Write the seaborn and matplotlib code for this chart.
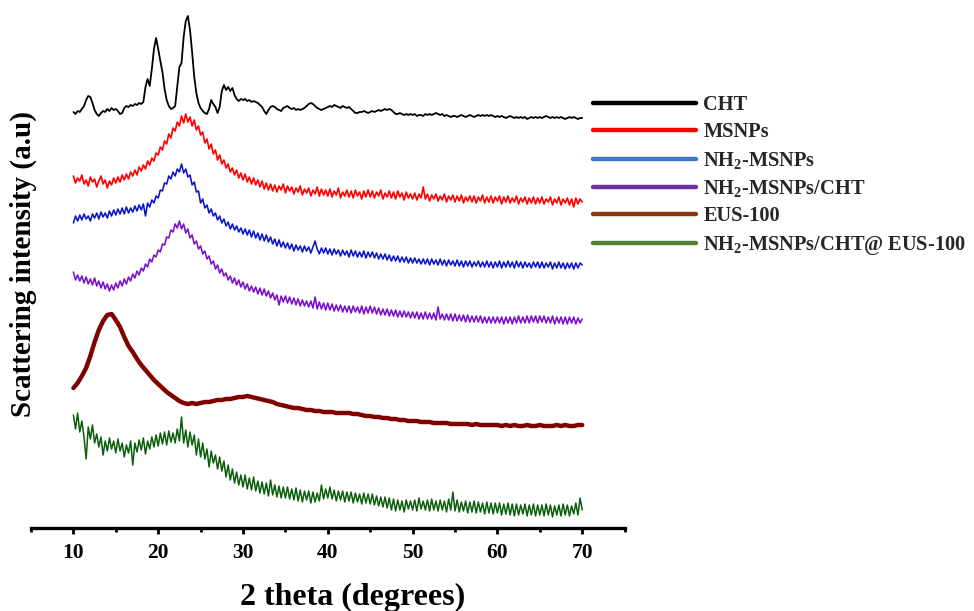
import numpy as np
import pandas as pd
import matplotlib
matplotlib.use("Agg")
import matplotlib.pyplot as plt
import seaborn as sns
from matplotlib.lines import Line2D
from matplotlib.ticker import MultipleLocator

# scan angle grids (2 theta, degrees)
two_theta_fine = np.arange(10.0, 70.001, 0.25)
two_theta_coarse = np.arange(10.0, 70.001, 0.5)

# intensities (a.u.)
cht = [415, 413, 416, 415, 418, 421, 427, 431, 430, 424, 417, 413, 411, 414, 416, 415, 418, 416, 419, 417,
       418, 416, 413, 414, 419, 421, 420, 422, 421, 423, 422, 424, 423, 425, 440, 448, 441, 458, 478, 489,
       478, 466, 455, 438, 427, 421, 418, 419, 421, 440, 460, 464, 490, 506, 511, 497, 475, 450, 434, 424,
       419, 416, 414, 413, 418, 427, 423, 420, 414, 420, 436, 442, 437, 440, 436, 439, 432, 428, 426, 428,
       427, 428, 426, 427, 425, 426, 425, 424, 422, 420, 416, 413, 417, 420, 421, 420, 418, 417, 416, 419,
       420, 421, 419, 418, 419, 417, 418, 417, 418, 419, 421, 423, 424, 423, 421, 419, 418, 417, 418, 419,
       420, 421, 420, 422, 421, 420, 419, 421, 420, 419, 420, 418, 416, 414, 414, 415, 415, 416, 415, 414,
       415, 416, 415, 416, 417, 416, 417, 418, 417, 418, 417, 415, 413, 413, 414, 413, 412, 413, 412, 413,
       412, 413, 411, 412, 412, 411, 413, 412, 413, 412, 413, 414, 413, 412, 413, 411, 412, 411, 410, 411,
       411, 410, 411, 412, 411, 410, 411, 412, 411, 410, 411, 412, 411, 412, 411, 412, 411, 412, 411, 410,
       411, 410, 411, 410, 409, 410, 411, 410, 409, 410, 409, 410, 409, 410, 408, 409, 410, 409, 410, 409,
       410, 409, 410, 411, 410, 409, 410, 409, 410, 409, 410, 409, 408, 409, 410, 409, 410, 409, 408, 409,
       409]

msnps = [351, 344, 349, 346, 352, 343, 347, 341, 350, 345, 348, 340, 346, 351, 343, 347, 339, 346, 342, 349,
         344, 350, 345, 352, 347, 353, 348, 355, 351, 357, 352, 360, 356, 362, 358, 366, 362, 369, 366, 374,
         372, 380, 377, 386, 383, 393, 389, 399, 396, 405, 401, 411, 404, 413, 405, 410, 401, 407, 397, 401,
         392, 395, 384, 388, 378, 383, 373, 377, 367, 372, 363, 367, 359, 363, 355, 359, 352, 357, 349, 354,
         347, 353, 345, 350, 343, 349, 342, 347, 340, 346, 338, 344, 337, 343, 336, 342, 335, 341, 337, 343,
         334, 341, 336, 340, 333, 339, 335, 341, 332, 338, 334, 339, 331, 337, 333, 340, 331, 338, 332, 337,
         331, 338, 330, 336, 332, 339, 329, 335, 331, 337, 330, 336, 329, 337, 331, 335, 328, 336, 330, 337,
         330, 336, 329, 335, 331, 337, 328, 334, 330, 336, 329, 335, 328, 336, 330, 334, 327, 335, 329, 333,
         328, 334, 327, 333, 329, 340, 328, 333, 326, 332, 328, 333, 326, 331, 327, 333, 325, 331, 327, 332,
         325, 331, 326, 332, 324, 330, 326, 331, 325, 331, 324, 330, 326, 332, 324, 330, 325, 331, 324, 330,
         326, 331, 323, 330, 325, 331, 324, 329, 325, 331, 323, 329, 325, 330, 323, 329, 324, 330, 323, 329,
         324, 330, 323, 328, 325, 330, 322, 328, 324, 330, 322, 328, 324, 329, 322, 328, 320, 329, 323, 328,
         325]

nh2_msnps = [304, 311, 306, 312, 307, 313, 308, 311, 306, 313, 309, 314, 308, 315, 310, 314, 309, 316, 311, 317,
             312, 318, 313, 319, 313, 320, 314, 319, 315, 321, 316, 322, 317, 323, 311, 324, 320, 327, 324, 331,
             329, 337, 336, 344, 343, 351, 348, 355, 351, 358, 355, 363, 354, 358, 350, 352, 342, 345, 335, 336,
             324, 328, 319, 322, 314, 318, 311, 314, 307, 311, 304, 308, 301, 305, 298, 303, 297, 301, 295, 299,
             293, 298, 292, 297, 290, 296, 289, 294, 287, 293, 286, 292, 285, 290, 283, 288, 281, 287, 280, 285,
             279, 284, 278, 283, 276, 282, 277, 281, 275, 281, 276, 280, 274, 280, 286, 278, 273, 279, 274, 279,
             273, 278, 272, 278, 273, 277, 271, 277, 272, 276, 270, 277, 271, 276, 270, 275, 270, 276, 269, 275,
             270, 275, 269, 274, 268, 273, 268, 273, 267, 272, 266, 271, 266, 271, 265, 270, 265, 270, 264, 269,
             264, 269, 264, 268, 263, 268, 263, 268, 262, 268, 263, 267, 262, 268, 262, 267, 261, 267, 262, 266,
             261, 267, 261, 266, 260, 266, 261, 266, 260, 265, 261, 266, 260, 265, 260, 266, 260, 265, 259, 265,
             260, 266, 259, 265, 260, 266, 260, 265, 259, 266, 260, 265, 259, 265, 260, 264, 259, 265, 260, 265,
             259, 265, 259, 264, 260, 265, 258, 264, 259, 265, 259, 264, 258, 264, 259, 264, 258, 264, 259, 264,
             262]

nh2_msnps_cht = [255, 247, 252, 246, 251, 244, 250, 243, 248, 242, 249, 241, 246, 239, 245, 238, 243, 236, 242, 237,
                 244, 239, 246, 241, 248, 243, 250, 246, 253, 249, 256, 252, 259, 256, 263, 260, 268, 265, 272, 270,
                 277, 275, 283, 282, 290, 289, 297, 295, 303, 299, 306, 298, 303, 294, 298, 289, 292, 283, 286, 278,
                 281, 273, 276, 268, 271, 263, 266, 258, 262, 254, 258, 251, 254, 247, 251, 244, 249, 242, 247, 240,
                 245, 238, 243, 236, 241, 235, 240, 233, 239, 232, 238, 231, 236, 229, 234, 227, 232, 222, 231, 225,
                 231, 224, 230, 223, 229, 222, 228, 221, 227, 221, 226, 220, 226, 219, 230, 218, 225, 218, 224, 217,
                 224, 217, 223, 216, 222, 216, 222, 215, 221, 215, 221, 214, 221, 215, 220, 214, 221, 213, 220, 214,
                 221, 214, 220, 213, 219, 212, 218, 212, 218, 211, 217, 211, 217, 210, 216, 210, 216, 210, 215, 209,
                 215, 209, 215, 208, 214, 208, 215, 208, 214, 208, 214, 207, 220, 208, 213, 207, 213, 207, 213, 206,
                 213, 206, 212, 206, 212, 205, 212, 205, 211, 205, 211, 205, 211, 204, 210, 204, 210, 204, 210, 204,
                 210, 204, 210, 203, 210, 204, 210, 203, 210, 204, 211, 204, 210, 204, 211, 204, 211, 205, 211, 204,
                 211, 205, 211, 204, 210, 204, 211, 203, 210, 204, 210, 203, 210, 203, 210, 204, 210, 203, 209, 204,
                 208]

eus_100 = [139, 144, 151, 159, 171, 185, 197, 206, 212, 213, 207, 200, 190, 181, 175, 168, 162, 157, 152, 147,
           143, 139, 135, 132, 129, 126, 124, 123, 124, 123, 124, 125, 125, 126, 127, 127, 128, 128, 129, 130,
           130, 131, 130, 129, 128, 127, 126, 125, 123, 122, 121, 120, 119, 119, 118, 117, 117, 116, 116, 115,
           115, 115, 114, 114, 114, 114, 113, 113, 112, 111, 111, 110, 110, 109, 109, 108, 108, 107, 107, 106,
           106, 106, 105, 105, 105, 104, 104, 104, 104, 103, 103, 103, 103, 103, 102, 103, 102, 102, 102, 102,
           102, 101, 102, 101, 102, 101, 101, 102, 101, 101, 102, 101, 101, 101, 102, 101, 102, 101, 101, 102,
           102]

nh2_msnps_cht_eus = [112, 98, 114, 95, 106, 90, 68, 100, 88, 102, 84, 93, 80, 90, 72, 86, 76, 89, 78, 86,
                     74, 88, 76, 84, 70, 82, 74, 86, 62, 84, 75, 87, 77, 89, 73, 86, 78, 90, 80, 92,
                     81, 94, 83, 95, 82, 96, 85, 94, 84, 98, 86, 110, 84, 97, 80, 95, 82, 92, 72, 88,
                     70, 84, 68, 78, 60, 76, 64, 72, 58, 70, 56, 66, 50, 62, 47, 58, 44, 55, 42, 52,
                     40, 52, 38, 49, 37, 50, 36, 46, 34, 45, 33, 44, 31, 47, 32, 42, 30, 41, 29, 40,
                     29, 40, 28, 38, 27, 39, 26, 37, 25, 36, 27, 36, 24, 35, 25, 34, 26, 42, 28, 38,
                     29, 40, 28, 37, 26, 36, 27, 36, 25, 35, 26, 35, 24, 34, 25, 33, 23, 34, 24, 33,
                     23, 33, 22, 31, 21, 30, 20, 30, 19, 29, 17, 28, 16, 27, 17, 26, 15, 27, 18, 26,
                     17, 27, 16, 29, 18, 26, 17, 27, 16, 28, 17, 26, 16, 27, 17, 26, 15, 28, 17, 35,
                     16, 27, 15, 25, 16, 26, 14, 25, 15, 26, 14, 25, 15, 24, 13, 25, 14, 24, 13, 24,
                     14, 24, 12, 23, 13, 24, 12, 23, 11, 23, 12, 22, 13, 23, 11, 22, 12, 23, 11, 22,
                     12, 22, 11, 23, 12, 22, 10, 21, 12, 22, 11, 23, 12, 22, 11, 21, 13, 24, 12, 29,
                     17]

series_names = ["CHT", "MSNPs", r"NH$_2$-MSNPs", r"NH$_2$-MSNPs/CHT", "EUS-100",
                r"NH$_2$-MSNPs/CHT@ EUS-100"]
series_values = [cht, msnps, nh2_msnps, nh2_msnps_cht, eus_100, nh2_msnps_cht_eus]
series_grids = [two_theta_fine, two_theta_fine, two_theta_fine, two_theta_fine,
                two_theta_coarse, two_theta_fine]
curve_colors = ["#000000", "#ff0000", "#0a14c8", "#7a10cc", "#800000", "#0b5e0b"]
curve_widths = [1.3, 1.2, 1.15, 1.15, 3.2, 1.1]
legend_colors = ["#000000", "#ff0000", "#3a78c8", "#7030a0", "#843c0c", "#548235"]

sns.set_theme(style="white")
plt.rcParams['font.family'] = ['Liberation Serif', 'DejaVu Serif']
plt.rcParams['font.weight'] = 'bold'
plt.rcParams['mathtext.fontset'] = 'custom'
plt.rcParams['mathtext.rm'] = 'Liberation Serif:bold'
plt.rcParams['mathtext.it'] = 'Liberation Serif:bold'
plt.rcParams['mathtext.bf'] = 'Liberation Serif:bold'

fig = plt.figure(figsize=(9.74, 6.11), dpi=100)
ax = fig.add_axes([31 / 974, (611 - 528) / 611, (624.6 - 31) / 974, 528 / 611])

for name, grid, vals, col, lw in zip(series_names, series_grids, series_values, curve_colors, curve_widths):
    df = pd.DataFrame({"two_theta": grid, "intensity": vals})
    sns.lineplot(data=df, x="two_theta", y="intensity", color=col, linewidth=lw,
                 estimator=None, ax=ax, legend=False)

ax.set_xlim(5, 75)
ax.set_ylim(-1, 527)
ax.set_yticks([])
ax.xaxis.set_major_locator(MultipleLocator(10))
ax.xaxis.set_minor_locator(MultipleLocator(5))
for s in ["left", "top", "right"]:
    ax.spines[s].set_visible(False)
ax.spines["bottom"].set_linewidth(2.4)
ax.spines["bottom"].set_color("black")
ax.tick_params(axis="x", which="major", direction="out", length=4.5, width=2.0,
               labelsize=15.5, pad=6, colors="black", bottom=True)
ax.tick_params(axis="x", which="minor", direction="out", length=2.8, width=2.0,
               bottom=True, colors="black")
for lab in ax.get_xticklabels():
    lab.set_fontweight("bold")

ax.set_xlabel("2 theta (degrees)", fontsize=23, fontweight="bold", color="black")
ax.xaxis.set_label_coords((353 - 31) / 594, -0.104)
ax.set_ylabel("Scattering intensity (a.u)", fontsize=21, fontweight="bold", color="black")
ax.yaxis.set_label_coords(0.01, 0.5)

handles = [Line2D([0], [0], color=c, lw=3.2) for c in legend_colors]
fig.legend(handles, series_names, loc="upper left", bbox_to_anchor=(593 / 974, 1 - 95 / 611),
           frameon=False, prop={"family": "Liberation Serif", "weight": "bold", "size": 14.7},
           handlelength=5.05, handletextpad=0.35, labelspacing=0.36, borderpad=0, borderaxespad=0)

fig.savefig("out.png", dpi=100)
